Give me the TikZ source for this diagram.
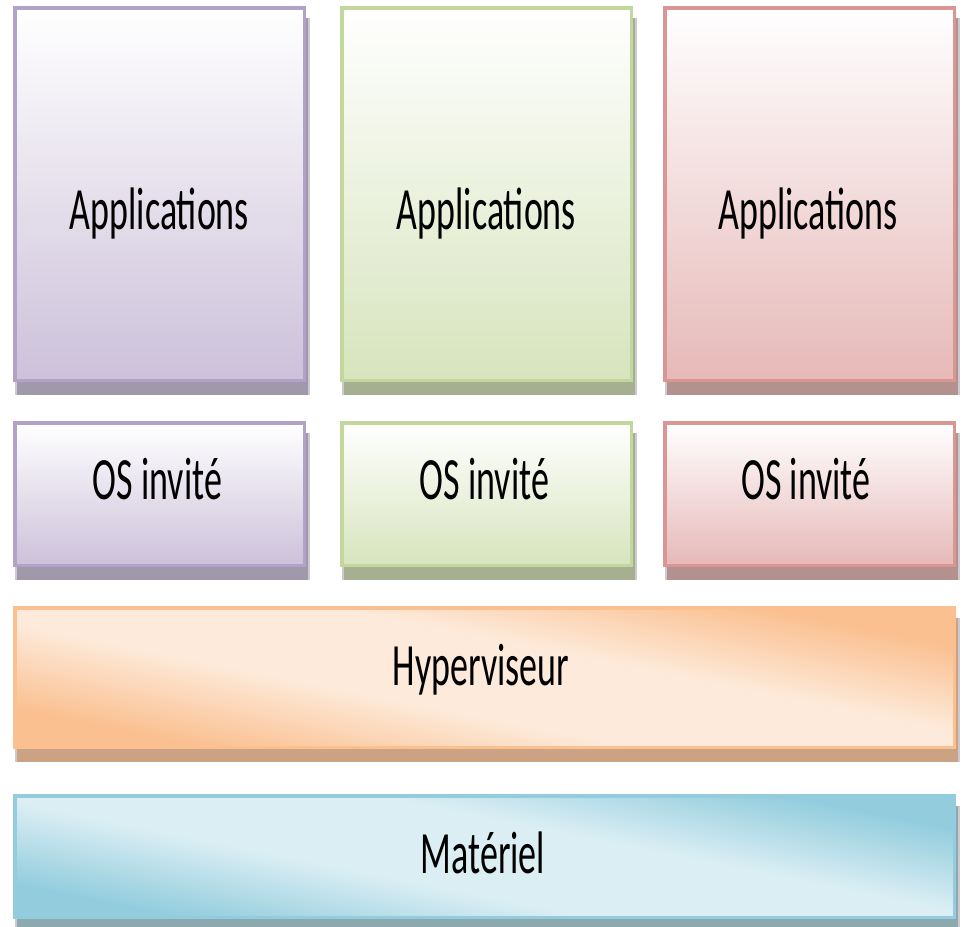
\documentclass[tikz,border=0pt]{standalone}
\usepackage{fontspec}
\setmainfont{Carlito}
\usepackage{graphicx}
\definecolor{pBorder}{HTML}{B3A2C7}
\definecolor{pFill}{HTML}{CCC1DA}
\definecolor{pShadow}{HTML}{9F99AB}
\definecolor{gBorder}{HTML}{C3D69B}
\definecolor{gFill}{HTML}{D7E4BD}
\definecolor{gShadow}{HTML}{A6B091}
\definecolor{rBorder}{HTML}{D99694}
\definecolor{rFill}{HTML}{E6B9B8}
\definecolor{rShadow}{HTML}{B3918F}
\definecolor{oBorder}{HTML}{FAC090}
\definecolor{oDark}{HTML}{FAC090}
\definecolor{oLight}{HTML}{FDEADA}
\definecolor{oShadow}{HTML}{CBA283}
\definecolor{bBorder}{HTML}{93CDDD}
\definecolor{bDark}{HTML}{93CDDD}
\definecolor{bLight}{HTML}{DBEEF4}
\definecolor{bShadow}{HTML}{8DA9B0}
\definecolor{lightShadow}{HTML}{CCCACF}
\pgfdeclareverticalshading{hypshade}{100bp}{color(0bp)=(oDark); color(27.5bp)=(oDark); color(42.8bp)=(oLight); color(57.2bp)=(oLight); color(72.5bp)=(oDark); color(100bp)=(oDark)}
\pgfdeclareverticalshading{matshade}{100bp}{color(0bp)=(bDark); color(27bp)=(bDark); color(42.5bp)=(bLight); color(57.5bp)=(bLight); color(73bp)=(bDark); color(100bp)=(bDark)}
\newcommand{\squeeze}[1]{\scalebox{0.6}[1]{#1}}
\tikzset{
  lbl/.style={anchor=base, inner sep=0pt, font=\fontsize{60}{70}\selectfont, text=black},
  boxframe/.style={line width=3.5pt},
}
\begin{document}
\begin{tikzpicture}[x=1pt,y=-1pt]
\useasboundingbox (0,0) rectangle (963,926);
% shadows
\foreach \xa/\ya/\xb/\yb/\sc in {13/6/306/382/pShadow,340/6/633/382/gShadow,663/6/956/382/rShadow,13/421/306/567/pShadow,340/421/633/567/gShadow,663/421/956/567/rShadow,13/606/956/749/oShadow,13/794/956/919/bShadow}{
  \fill[lightShadow] (\xa+2,\ya+12) rectangle (\xb+4,\yb+13);
  \fill[\sc] (\xa+4,\ya+12) rectangle (\xb+2,\yb+13);
}
% application boxes
\shade[top color=white, bottom color=pFill, draw=pBorder, boxframe] (14.75,7.75) rectangle (304.25,380.25);
\shade[top color=white, bottom color=gFill, draw=gBorder, boxframe] (341.75,7.75) rectangle (631.25,380.25);
\shade[top color=white, bottom color=rFill, draw=rBorder, boxframe] (664.75,7.75) rectangle (954.25,380.25);
% OS boxes
\shade[top color=white, bottom color=pFill, draw=pBorder, boxframe] (14.75,422.75) rectangle (304.25,565.25);
\shade[top color=white, bottom color=gFill, draw=gBorder, boxframe] (341.75,422.75) rectangle (631.25,565.25);
\shade[top color=white, bottom color=rFill, draw=rBorder, boxframe] (664.75,422.75) rectangle (954.25,565.25);
% hypervisor and hardware
\shade[shading=hypshade, shading angle=-11.3, draw=oBorder, boxframe] (14.75,607.75) rectangle (954.25,747.25);
\shade[shading=matshade, shading angle=-11.3, draw=bBorder, boxframe] (14.75,795.75) rectangle (954.25,917.25);
% labels
\node[lbl] (appP) at (159.5,229) {\squeeze{Applications}};
\node[lbl] (appG) at (486.5,229) {\squeeze{Applications}};
\node[lbl] (appR) at (808,229) {\squeeze{Applications}};
\node[lbl] (osP) at (157.5,499) {\squeeze{OS invité}};
\node[lbl] (osG) at (484.5,499) {\squeeze{OS invité}};
\node[lbl] (osR) at (806,499) {\squeeze{OS invité}};
\node[lbl] (hyp) at (481,685) {\squeeze{Hyperviseur}};
\node[lbl] (mat) at (483,873) {\squeeze{Matériel}};
\end{tikzpicture}
\end{document}
